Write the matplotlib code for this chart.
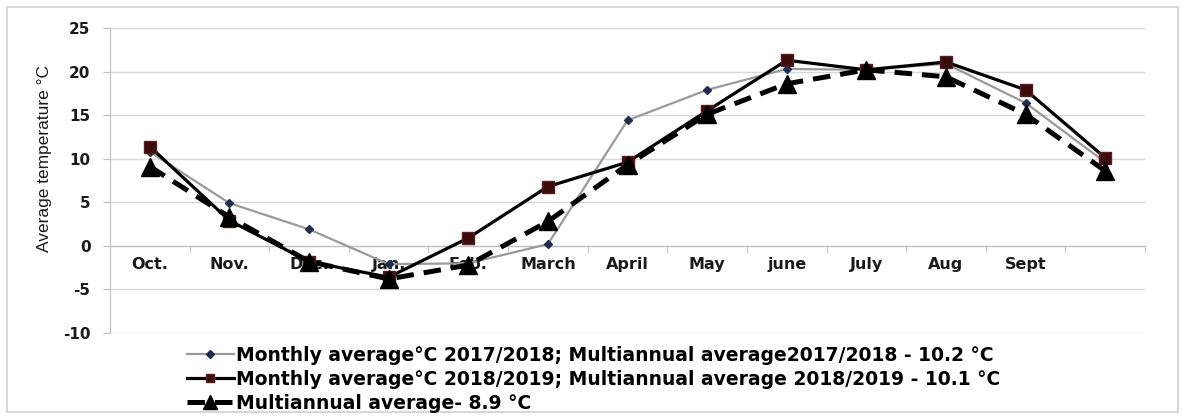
import numpy as np
import matplotlib
matplotlib.use('Agg')
import matplotlib.pyplot as plt
from matplotlib.lines import Line2D
from matplotlib.patches import Rectangle

# data
months = ['Oct.', 'Nov.', 'Dec.', 'Jan.', 'Feb.', 'March', 'April', 'May',
          'june', 'July', 'Aug', 'Sept', '']
t_2017_2018 = [10.8, 4.9, 1.9, -2.1, -2.0, 0.2, 14.4, 17.9, 20.3, 20.2, 20.9, 16.4, 9.6]
t_2018_2019 = [11.4, 2.9, -1.8, -3.6, 0.9, 6.8, 9.6, 15.5, 21.3, 20.2, 21.1, 17.9, 10.1]
t_multi = [9.1, 3.3, -1.8, -3.8, -2.2, 2.8, 9.3, 15.1, 18.6, 20.2, 19.4, 15.1, 8.6]

labels = ['Monthly average°C 2017/2018; Multiannual average2017/2018 - 10.2 °C',
          'Monthly average°C 2018/2019; Multiannual average 2018/2019 - 10.1 °C',
          'Multiannual average- 8.9 °C']

plt.rcParams['font.family'] = ['DejaVu Sans']
plt.rcParams['axes.unicode_minus'] = False  # plain hyphen like the original

W, H = 1183, 420
fig = plt.figure(figsize=(W / 100, H / 100), dpi=100)
ax = fig.add_axes([110 / W, 1 - 333 / H, (1145 - 110) / W, (333 - 28) / H])

# axis crossing at zero first, it resets the ticks
ax.spines['bottom'].set_position(('data', 0))
ax.spines['bottom'].set_color('#bfbfbf')
ax.spines['left'].set_color('#bfbfbf')
ax.spines['top'].set_visible(False)
ax.spines['right'].set_visible(False)

x = np.arange(len(months))

l1, = ax.plot(x, t_2017_2018, color='#9a9a9a', lw=1.6, marker='D', ms=4,
              mfc='#1f2d4f', mec='#1f2d4f', zorder=3)
l2, = ax.plot(x, t_2018_2019, color='black', lw=2.3, marker='s', ms=8,
              mfc='#3b0c0e', mec='#5a1c1c', zorder=4)
l3, = ax.plot(x, t_multi, color='black', lw=3.6, ls=(0, (3.5, 2)), marker='^',
              ms=13, mfc='black', mec='black', zorder=5)

ax.set_xlim(-0.5, len(months) - 0.5)
ax.set_ylim(-10, 25)
ax.set_yticks(np.arange(-10, 26, 5))
ax.grid(axis='y', color='#d9d9d9', lw=1)
ax.set_axisbelow(True)

ax.set_xticks(x)
ax.set_xticklabels(months)
ax.set_xticks(np.arange(-0.5, len(months)), minor=True)
ax.tick_params(axis='x', which='major', length=0, pad=8)
ax.tick_params(axis='x', which='minor', length=5, color='#bfbfbf', direction='out')
ax.tick_params(axis='y', length=5, color='#bfbfbf', pad=9)
for lab in ax.get_xticklabels():
    lab.set_fontweight('bold')
    lab.set_fontsize(11.5)
    lab.set_color('#1a1a1a')
for lab in ax.get_yticklabels():
    lab.set_fontweight('bold')
    lab.set_fontsize(11)
    lab.set_color('#1a1a1a')

fig.text(45 / W, 1 - 159 / H, 'Average temperature °C', rotation=90,
         ha='center', va='center', fontsize=12.5,
         family=['Liberation Sans', 'DejaVu Sans'], color='#1a1a1a')

handles = [
    Line2D([], [], color='#9a9a9a', lw=1.6, marker='D', ms=4, mfc='#1f2d4f', mec='#1f2d4f'),
    Line2D([], [], color='black', lw=2.3, marker='s', ms=6, mfc='#3b0c0e', mec='#5a1c1c'),
    Line2D([], [], color='black', lw=3.6, ls=(0, (3.5, 2)), marker='^', ms=10, mfc='black'),
]
fig.legend(handles, labels, loc='upper left', bbox_to_anchor=(187 / W, 1 - 346 / H),
           frameon=False, borderpad=0, borderaxespad=0, handlelength=2.5,
           handletextpad=0.1, labelspacing=0.26,
           prop={'weight': 'bold', 'size': 13.5})

fig.add_artist(Rectangle((7 / W, 8 / H), 1171 / W, 405 / H, transform=fig.transFigure,
                         fill=False, ec='#cfcfcf', lw=1.2))

fig.savefig('out.png', dpi=100)
